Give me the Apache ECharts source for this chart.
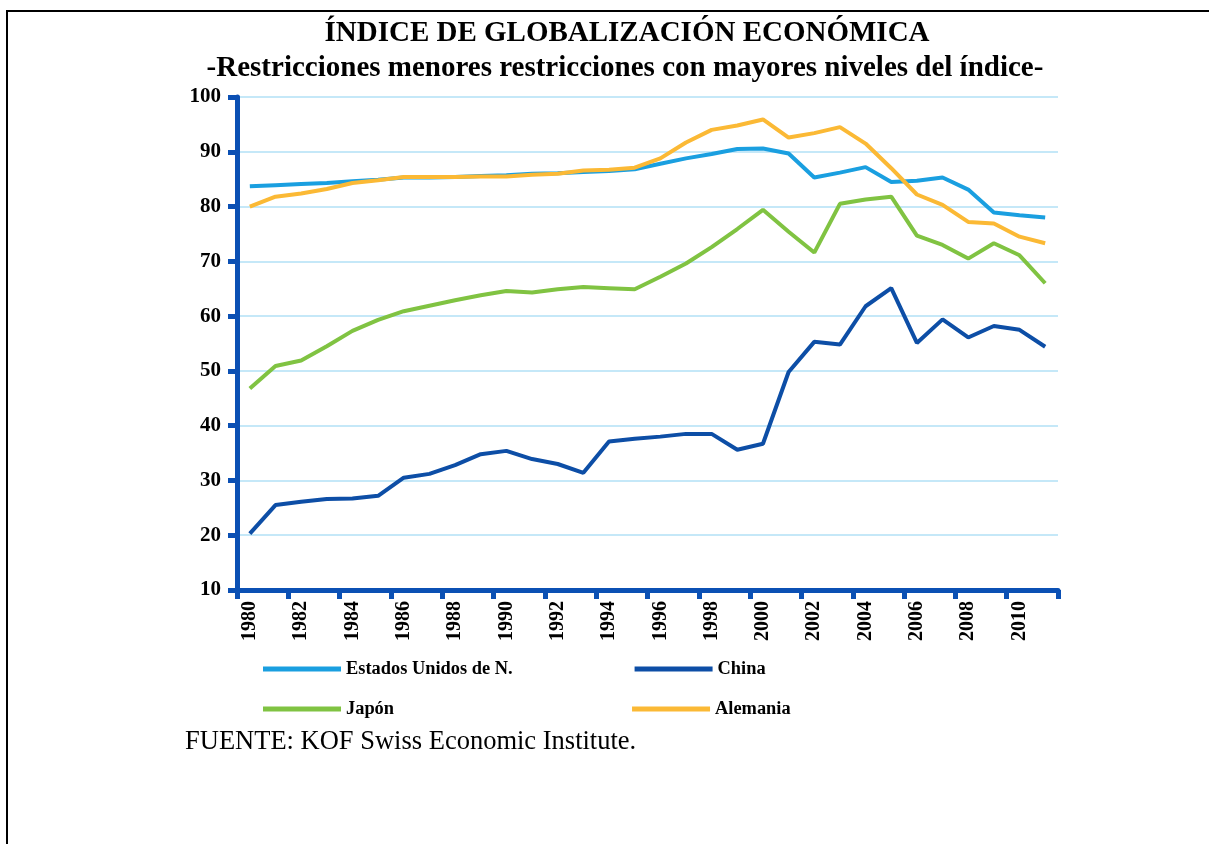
<!DOCTYPE html>
<html>
<head>
<meta charset="utf-8">
<script src="https://cdn.jsdelivr.net/npm/echarts@6/dist/echarts.min.js"></script>
<style>
html,body{margin:0;padding:0;background:#fff;}
#chart{width:1209px;height:844px;}
</style>
</head>
<body>
<div id="chart"></div>
<script>
var years = ['1980','1981','1982','1983','1984','1985','1986','1987','1988','1989','1990','1991','1992','1993','1994','1995','1996','1997','1998','1999','2000','2001','2002','2003','2004','2005','2006','2007','2008','2009','2010','2011'];
var estadosUnidos = [83.7,83.9,84.1,84.3,84.6,84.9,85.3,85.3,85.4,85.6,85.7,86.0,86.1,86.3,86.5,86.8,87.8,88.8,89.6,90.5,90.6,89.7,85.3,86.2,87.2,84.5,84.7,85.3,83.1,78.9,78.4,78.0];
var china = [20.3,25.5,26.1,26.6,26.7,27.2,30.5,31.2,32.8,34.8,35.4,33.9,33.0,31.4,37.1,37.6,38.0,38.5,38.5,35.6,36.7,49.8,55.3,54.8,61.8,65.1,55.1,59.4,56.1,58.2,57.5,54.4];
var japon = [46.8,50.9,51.9,54.5,57.3,59.3,60.9,61.9,62.9,63.8,64.6,64.3,64.9,65.3,65.1,64.9,67.2,69.6,72.6,75.9,79.4,75.4,71.6,80.5,81.3,81.8,74.7,73.0,70.5,73.3,71.1,66.0];
var alemania = [80.0,81.8,82.4,83.2,84.3,84.8,85.4,85.4,85.4,85.5,85.5,85.8,86.0,86.6,86.7,87.1,88.8,91.7,94.0,94.8,95.9,92.6,93.4,94.5,91.5,87.0,82.2,80.3,77.2,76.9,74.5,73.3];
var seriesNames = ['Estados Unidos de N.','China','Japón','Alemania'];
var titleText = 'ÍNDICE DE GLOBALIZACIÓN ECONÓMICA';
var subtitleText = '-Restricciones menores restricciones con mayores niveles del índice-';
var sourceText = 'FUENTE: KOF Swiss Economic Institute.';

var serif = "'Liberation Serif','Times New Roman',serif";
var axisBlue = '#0b50b4';
var colors = ['#1a9fe0','#0d4ea6','#80c342','#fbb935'];
var chart = echarts.init(document.getElementById('chart'));

function mkSeries(name, data, color) {
  return {
    name: name, type: 'line', data: data, symbol: 'none', smooth: false,
    lineStyle: {color: color, width: 4}, itemStyle: {color: color}
  };
}
var legendCommon = {
  icon: 'rect', itemWidth: 78, itemHeight: 5, padding: 0,
  textStyle: {fontFamily: serif, fontWeight: 'bold', fontSize: 18.4, color: '#000'},
  selectedMode: false
};

chart.setOption({
  animation: false,
  backgroundColor: '#fff',
  grid: {left: 237, right: 151, top: 97, bottom: 254, containLabel: false},
  xAxis: {
    type: 'category', data: years, boundaryGap: true,
    axisLine: {lineStyle: {color: axisBlue, width: 5}},
    axisTick: {show: true, interval: 1, length: 9, alignWithLabel: false, lineStyle: {color: axisBlue, width: 5}},
    axisLabel: {interval: 1, rotate: 90, margin: 11, fontFamily: serif, fontWeight: 'bold', fontSize: 20, color: '#000'},
    splitLine: {show: false}
  },
  yAxis: {
    type: 'value', min: 10, max: 100, interval: 10,
    axisLine: {show: true, lineStyle: {color: axisBlue, width: 5}},
    axisTick: {show: true, length: 9, lineStyle: {color: axisBlue, width: 5}},
    axisLabel: {margin: 16, fontFamily: serif, fontWeight: 'bold', fontSize: 21, color: '#000'},
    splitLine: {show: true, lineStyle: {color: '#c5e8f8', width: 2}}
  },
  legend: [
    Object.assign({data: [seriesNames[0], seriesNames[1]], left: 263, top: 660, itemGap: 122, orient: 'horizontal'}, legendCommon),
    Object.assign({data: [seriesNames[2], seriesNames[3]], left: 263, top: 700, itemGap: 238, orient: 'horizontal'}, legendCommon)
  ],
  series: [
    mkSeries(seriesNames[0], estadosUnidos, colors[0]),
    mkSeries(seriesNames[1], china, colors[1]),
    mkSeries(seriesNames[2], japon, colors[2]),
    mkSeries(seriesNames[3], alemania, colors[3])
  ],
  graphic: [
    {type: 'rect', silent: true, shape: {x: 7, y: 11, width: 1220, height: 850},
     style: {fill: 'none', stroke: '#000', lineWidth: 2}},
    {type: 'text', x: 627, y: 34, style: {text: titleText, fontFamily: serif, fontWeight: 'bold', fontSize: 29, fill: '#000', align: 'center', verticalAlign: 'middle'}},
    {type: 'text', x: 625, y: 69, style: {text: subtitleText, fontFamily: serif, fontWeight: 'bold', fontSize: 29, fill: '#000', align: 'center', verticalAlign: 'middle'}},
    {type: 'text', x: 185, y: 742, style: {text: sourceText, fontFamily: serif, fontSize: 26.5, fill: '#000', align: 'left', verticalAlign: 'middle'}}
  ]
});
</script>
</body>
</html>
